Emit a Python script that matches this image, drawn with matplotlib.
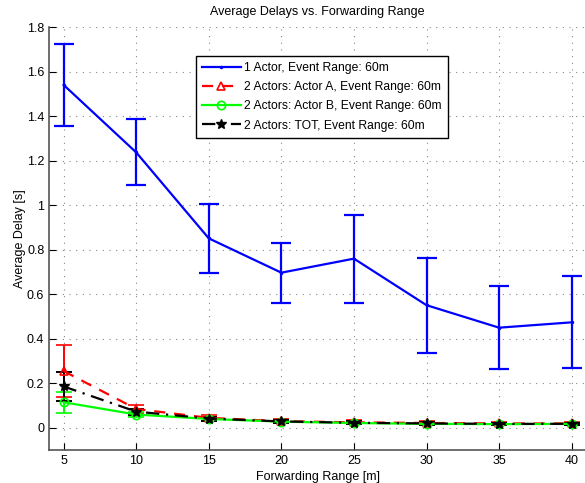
import numpy as np
import matplotlib.pyplot as plt

plt.rcParams['font.family'] = ['Liberation Sans', 'DejaVu Sans']

# forwarding range [m]
fwd_range = [5, 10, 15, 20, 25, 30, 35, 40]

# 1 actor
one_mean = [1.54, 1.237, 0.851, 0.697, 0.760, 0.551, 0.450, 0.474]
one_err = [0.185, 0.148, 0.156, 0.135, 0.198, 0.214, 0.185, 0.207]

# 2 actors: actor A
a_mean = [0.255, 0.085, 0.045, 0.030, 0.025, 0.022, 0.020, 0.020]
a_err = [0.118, 0.018, 0.012, 0.010, 0.009, 0.008, 0.008, 0.008]

# 2 actors: actor B
b_mean = [0.115, 0.060, 0.040, 0.028, 0.022, 0.018, 0.017, 0.018]
b_err = [0.048, 0.010, 0.008, 0.007, 0.006, 0.006, 0.006, 0.006]

# 2 actors: TOT
tot_mean = [0.186, 0.073, 0.042, 0.029, 0.023, 0.020, 0.018, 0.018]
tot_err = [0.066, 0.014, 0.009, 0.008, 0.007, 0.006, 0.006, 0.006]

fig = plt.figure(figsize=(5.85, 4.83), dpi=100)
ax = fig.add_axes([0.084, 0.068, 0.918, 0.876])

c1 = ax.errorbar(fwd_range, one_mean, yerr=one_err, color='#0000ff', lw=1.6,
                 marker='.', ms=3, capsize=7, capthick=1.6, elinewidth=1.6,
                 label='1 Actor, Event Range: 60m')
c2 = ax.errorbar(fwd_range, a_mean, yerr=a_err, color='#ff0000', lw=1.6,
                 ls=(0, (5, 4)), marker='^', ms=6, mfc='none', mew=1.2,
                 capsize=6, capthick=1.4, elinewidth=1.4,
                 label='2 Actors: Actor A, Event Range: 60m')
c3 = ax.errorbar(fwd_range, b_mean, yerr=b_err, color='#00ff00', lw=1.6,
                 marker='o', ms=6, mfc='none', mew=1.2,
                 capsize=6, capthick=1.4, elinewidth=1.4,
                 label='2 Actors: Actor B, Event Range: 60m')
c4 = ax.errorbar(fwd_range, tot_mean, yerr=tot_err, color='black', lw=1.6,
                 ls=(0, (6, 3, 1, 3)), marker='*', ms=7,
                 capsize=6, capthick=1.4, elinewidth=1.4,
                 label='2 Actors: TOT, Event Range: 60m')

ax.set_xlim(4, 41)
ax.set_ylim(-0.1, 1.8)
ax.set_xticks(fwd_range)
ax.set_yticks(np.arange(0, 1.81, 0.2))
ax.set_yticklabels(['0', '0.2', '0.4', '0.6', '0.8', '1', '1.2', '1.4', '1.6', '1.8'])
ax.grid(True, ls=(0, (1, 5)), color='#888888', lw=0.8)
ax.tick_params(direction='in', length=5, labelsize=9, color='black')
ax.spines['top'].set_visible(False)
ax.spines['right'].set_visible(False)
for s in ['left', 'bottom']:
    ax.spines[s].set_color('#555555')
    ax.spines[s].set_linewidth(1.2)

ax.set_title('Average Delays vs. Forwarding Range', fontsize=9, pad=9)
ax.set_xlabel('Forwarding Range [m]', fontsize=9, labelpad=3)
ax.set_ylabel('Average Delay [s]', fontsize=9, labelpad=1)

# legend shows only the data lines, no error bar caps
handles = [c[0] for c in (c1, c2, c3, c4)]
labels = [c.get_label() for c in (c1, c2, c3, c4)]
leg = ax.legend(handles, labels, loc='upper left', bbox_to_anchor=(0.262, 0.946),
                fontsize=8.7, fancybox=False, edgecolor='black', framealpha=1,
                handlelength=3.2, borderpad=0.5, labelspacing=0.6,
                handletextpad=0.3)
leg.get_frame().set_linewidth(1.0)

fig.savefig('out.png', dpi=100)
